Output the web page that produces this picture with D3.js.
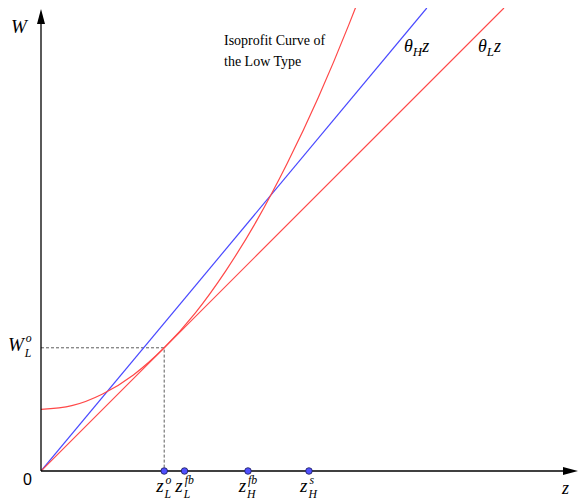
<!DOCTYPE html>
<html>
<head>
<meta charset="utf-8">
<script src="https://cdn.jsdelivr.net/npm/d3@7"></script>
<style>
  body { margin: 0; background: #fff; }
</style>
</head>
<body>
<div id="chart"></div>
<script>
// slopes of the two rays W = theta * z
var rayNames = ["θH", "θL"];
var raySlopes = [1.2, 1.0];
var rayColors = ["#4848ff", "#ff4848"];

// isoprofit curve of the low type
var curveZ = [0, 0.5, 1, 1.5, 2, 2.5, 3, 3.5, 4, 4.5, 5, 5.11];
var curveW = [1, 1.06, 1.25, 1.56, 2, 2.56, 3.25, 4.06, 5, 6.06, 7.25, 7.53];

// marked points on the z axis
var pointLabels = [["o", "L"], ["fb", "L"], ["fb", "H"], ["s", "H"]];
var pointZ = [2, 2.33, 3.36, 4.35];

var zOpt = 2, wOpt = 2;

var serif = "'Times New Roman', 'Liberation Serif', Times, serif";

var width = 579, height = 501;
var margin = {top: 8, right: 1, bottom: 30, left: 41};

var x = d3.scaleLinear().domain([0, 8.718]).range([margin.left, width - margin.right]);
var y = d3.scaleLinear().domain([0, 7.516]).range([height - margin.bottom, margin.top]);

var svg = d3.select("#chart").append("svg")
    .attr("width", width)
    .attr("height", height)
    .style("font-family", serif);

svg.append("clipPath").attr("id", "plot")
  .append("rect")
    .attr("x", x(0)).attr("y", y(7.516))
    .attr("width", x(8.718) - x(0)).attr("height", y(0) - y(7.516));

// dashed guides
svg.append("path")
    .attr("d", "M" + x(0) + "," + y(wOpt) + "H" + x(zOpt) + "V" + y(0))
    .attr("fill", "none")
    .attr("stroke", "#333")
    .attr("stroke-width", 0.8)
    .attr("stroke-dasharray", "3,2");

var g = svg.append("g").attr("clip-path", "url(#plot)");

// rays
raySlopes.forEach(function(s, i) {
  var zEnd = 7.516 / s;
  g.append("line")
      .attr("x1", x(0)).attr("y1", y(0))
      .attr("x2", x(zEnd)).attr("y2", y(s * zEnd))
      .attr("stroke", rayColors[i])
      .attr("stroke-width", 1.2);
});

// isoprofit curve
var line = d3.line()
    .x(function(d) { return x(d[0]); })
    .y(function(d) { return y(d[1]); })
    .curve(d3.curveMonotoneX);

g.append("path")
    .datum(d3.zip(curveZ, curveW))
    .attr("d", line)
    .attr("fill", "none")
    .attr("stroke", "#ff4848")
    .attr("stroke-width", 1.2);

// axes with arrows
var x0 = x(0), y0 = y(0), xEnd = x.range()[1], yEnd = y.range()[1] + 1;
svg.append("line")
    .attr("x1", x0).attr("y1", y0).attr("x2", xEnd - 10).attr("y2", y0)
    .attr("stroke", "#000").attr("stroke-width", 1.3);
svg.append("line")
    .attr("x1", x0).attr("y1", y0).attr("x2", x0).attr("y2", yEnd + 10)
    .attr("stroke", "#000").attr("stroke-width", 1.3);
svg.append("path")
    .attr("d", "M" + xEnd + "," + y0 + "L" + (xEnd - 15) + "," + (y0 - 4) + "L" + (xEnd - 15) + "," + (y0 + 4) + "Z")
    .attr("fill", "#000");
svg.append("path")
    .attr("d", "M" + x0 + "," + yEnd + "L" + (x0 - 4) + "," + (yEnd + 15) + "L" + (x0 + 4) + "," + (yEnd + 15) + "Z")
    .attr("fill", "#000");

// points on z axis
svg.selectAll("circle.pt")
    .data(pointZ)
  .enter().append("circle")
    .attr("class", "pt")
    .attr("cx", function(d) { return x(d); })
    .attr("cy", y0)
    .attr("r", 3.3)
    .attr("fill", "#5050ff")
    .attr("stroke", "#1a1a55")
    .attr("stroke-width", 0.8);

// label helper: italic base with stacked superscript / subscript
function mathLabel(px, py, base, sup, sub, size, anchor, supUp, subDown) {
  var grp = svg.append("g");
  var t = grp.append("text")
      .attr("x", px).attr("y", py)
      .style("font-style", "italic")
      .style("font-size", size + "px")
      .text(base);
  var w = t.node().getComputedTextLength();
  var sx = px + w + 2;
  var sw = 0;
  if (sup) {
    var s1 = grp.append("text")
        .attr("x", sx).attr("y", py - size * supUp)
        .style("font-style", "italic")
        .style("font-size", (size * 0.62) + "px")
        .text(sup);
    sw = Math.max(sw, s1.node().getComputedTextLength());
  }
  if (sub) {
    var s2 = grp.append("text")
        .attr("x", sx - 1).attr("y", py + size * subDown)
        .style("font-style", "italic")
        .style("font-size", (size * 0.62) + "px")
        .text(sub);
    sw = Math.max(sw, s2.node().getComputedTextLength());
  }
  if (anchor === "middle") {
    grp.attr("transform", "translate(" + (-(w + 2 + sw) / 2) + ",0)");
  }
  return grp;
}

pointZ.forEach(function(d, i) {
  mathLabel(x(d), 492, "z", pointLabels[i][0], pointLabels[i][1], 19, "middle", 0.44, 0.3);
});

mathLabel(8, 351, "W", "o", "L", 19, "start", 0.45, 0.33);

svg.append("text")
    .attr("x", 11).attr("y", 33)
    .style("font-style", "italic").style("font-size", "19px")
    .text("W");

svg.append("text")
    .attr("x", 562).attr("y", 494)
    .style("font-style", "italic").style("font-size", "18px")
    .text("z");

svg.append("text")
    .attr("x", 32).attr("y", 485)
    .attr("text-anchor", "end")
    .style("font-family", "'Liberation Sans', Arial, sans-serif")
    .style("font-size", "16px")
    .text("0");

// ray labels
var rayLabelX = [404, 478];
raySlopes.forEach(function(s, i) {
  var tx = svg.append("text")
      .attr("x", rayLabelX[i]).attr("y", 52)
      .style("font-style", "italic").style("font-size", "18px");
  tx.append("tspan").text("θ");
  tx.append("tspan").attr("dy", 4).style("font-size", "13px").text(rayNames[i].slice(1));
  tx.append("tspan").attr("dy", -4).text("z");
});

var iso = svg.append("text")
    .attr("x", 224).attr("y", 45)
    .style("font-size", "14px");
iso.append("tspan").text("Isoprofit Curve of");
iso.append("tspan").attr("x", 224).attr("dy", 21).text("the Low Type");
</script>
</body>
</html>
